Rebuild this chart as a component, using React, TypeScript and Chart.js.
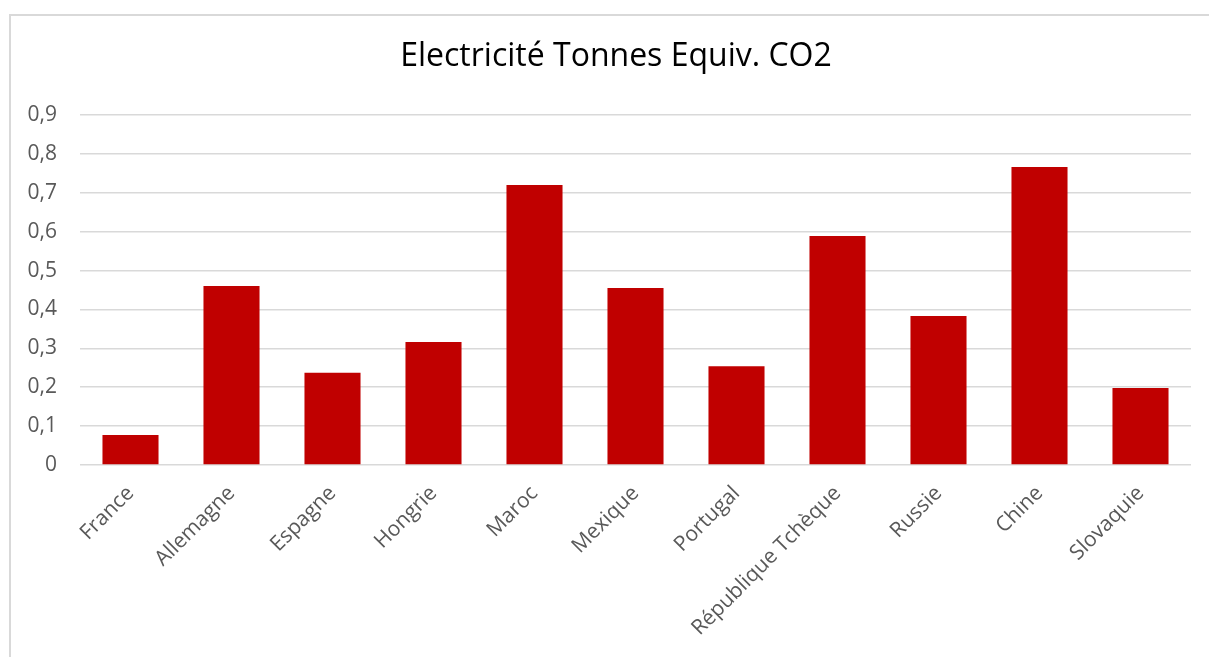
import React, { useEffect, useRef } from "react";
import { Chart, registerables } from "chart.js";

Chart.register(...registerables);

const categories = [
  "France",
  "Allemagne",
  "Espagne",
  "Hongrie",
  "Maroc",
  "Mexique",
  "Portugal",
  "République Tchèque",
  "Russie",
  "Chine",
  "Slovaquie",
];
const values = [0.077, 0.46, 0.237, 0.316, 0.72, 0.455, 0.254, 0.589, 0.383, 0.766, 0.198];
const yTicks = [0, 0.1, 0.2, 0.3, 0.4, 0.5, 0.6, 0.7, 0.8, 0.9];
const titleText = "Electricité Tonnes Equiv. CO2";

const FONT = "'Open Sans', sans-serif";

const titlePlugin = {
  id: "offsetTitle",
  afterDraw(chart: any) {
    const ctx = chart.ctx;
    ctx.save();
    ctx.font = `normal 32px ${FONT}`;
    ctx.fillStyle = "#000000";
    ctx.textAlign = "center";
    ctx.textBaseline = "middle";
    ctx.fillText(titleText, 616, 57);
    ctx.restore();
  },
};

export default function App() {
  const ref = useRef<HTMLCanvasElement | null>(null);

  useEffect(() => {
    if (!ref.current) return;
    const chart = new Chart(ref.current, {
      type: "bar",
      data: {
        labels: categories,
        datasets: [
          {
            data: values,
            backgroundColor: "#c00000",
            borderWidth: 0,
            categoryPercentage: 1,
            barPercentage: 0.555,
          },
        ],
      },
      options: {
        responsive: false,
        animation: false,
        layout: { padding: { left: 0, right: 18, top: 115, bottom: 0 } },
        plugins: {
          legend: { display: false },
          tooltip: { enabled: false },
          title: { display: false },
        },
        scales: {
          x: {
            grid: { display: false },
            border: { display: false },
            ticks: {
              color: "#595959",
              font: { family: FONT, size: 21 },
              maxRotation: 45,
              minRotation: 45,
              padding: 8,
              autoSkip: false,
            },
            afterFit: (scale: any) => {
              scale.height = 192;
            },
          },
          y: {
            min: 0,
            max: 0.9,
            afterBuildTicks: (scale: any) => {
              scale.ticks = yTicks.map((v) => ({ value: v }));
            },
            grid: { color: "#d9d9d9", lineWidth: 1.5, drawTicks: false },
            border: { display: false },
            ticks: {
              color: "#595959",
              font: { family: FONT, size: 21 },
              padding: 23,
              callback: (v: any) => String(Math.round(Number(v) * 10) / 10).replace(".", ","),
            },
            afterFit: (scale: any) => {
              scale.width = 80;
            },
          },
        },
      },
      plugins: [titlePlugin],
    });
    return () => chart.destroy();
  }, []);

  return (
    <div style={{ position: "fixed", left: 0, top: 0, width: 1209, height: 657, overflow: "hidden", background: "#fff" }}>
      <div
        style={{
          position: "absolute",
          left: 9,
          top: 14,
          width: 1300,
          height: 800,
          border: "2px solid #d9d9d9",
          boxSizing: "border-box",
        }}
      />
      <canvas ref={ref} width={1209} height={657} style={{ position: "absolute", left: 0, top: 0 }} />
    </div>
  );
}
